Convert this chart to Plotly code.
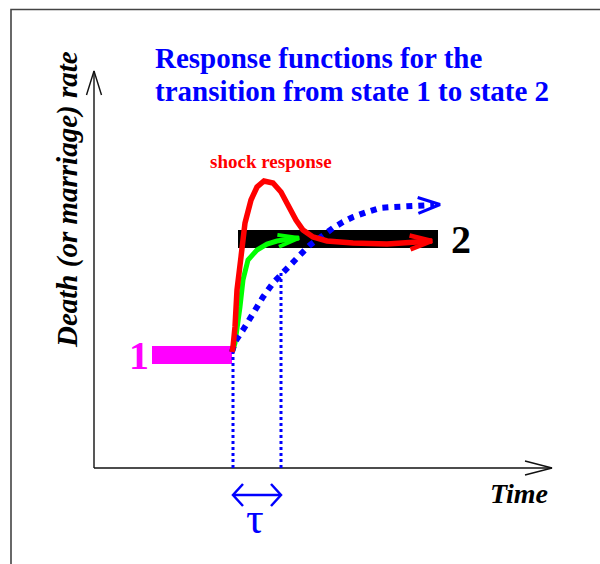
import plotly.graph_objects as go

# ---------------- data (time units on x, rate units on y; origin = axes corner) ----
T_MAX = 458          # length of time axis
R_MAX = 397          # length of rate axis

state1_t = [58, 138]   # extent of state-1 level
state1_r = 113
state2_t = [144, 344]  # extent of state-2 level
state2_r = 229
bar_thick = 18

t_switch = 139
tau = 48
tau_top = 195        # where the tau guide meets the slow response

state_labels = ["1", "2"]

red_t = [138, 139, 141, 143, 147, 151, 157, 163, 170, 179, 187, 194, 202, 209, 219, 233, 259, 293, 319, 338]
red_r = [116, 121, 141, 178, 211, 245, 268, 281, 287, 285, 276, 263, 248, 238, 231, 227, 225, 224, 225, 227]

green_t = [139, 141, 146, 149, 154, 163, 173, 183, 196, 205]
green_r = [118, 125, 161, 188, 208, 218, 224, 227, 229, 230]

blue_t = [138, 141, 149, 159, 169, 179, 189, 196, 206, 216, 226, 239, 249, 259, 273, 286, 299, 313, 323, 340]
blue_r = [116, 126, 138, 155, 171, 185, 196, 203, 213, 223, 231, 240, 246, 251, 256, 260, 261, 262, 262, 263]

title_lines = ["Response functions for the", "transition from state 1 to state 2"]
shock_text = "shock response"
x_title = "Time"
y_title = "Death (or marriage) rate"
tau_text = "τ"

SERIF = "Liberation Serif, Times New Roman, serif"
BLUE = "#0000ff"

fig = go.Figure()


def chevron(x0, y0, x1, y1, L, W):
    dx, dy = x1 - x0, y1 - y0
    n = (dx * dx + dy * dy) ** 0.5
    ux, uy = dx / n, dy / n
    px, py = -uy, ux
    bx, by = x1 - L * ux, y1 - L * uy
    return ([bx + W * px, x1, bx - W * px], [by + W * py, y1, by - W * py])


def line(x, y, color, width, dash="solid"):
    fig.add_trace(go.Scatter(x=x, y=y, mode="lines", hoverinfo="skip",
                             line=dict(color=color, width=width, dash=dash)))


# frame
fig.add_trace(go.Scatter(x=[-83, -83, 520], y=[-100, 458.5, 458.5], mode="lines",
                         hoverinfo="skip", line=dict(color="#444444", width=1.6)))

# axes with open arrowheads
line([0, 0], [0, R_MAX], "#111111", 1.4)
ax, ay = chevron(0, 0, 0, R_MAX, 24, 7.5)
line(ax, ay, "#111111", 1.4)
line([0, T_MAX], [0, 0], "#111111", 1.4)
ax, ay = chevron(0, 0, T_MAX, 0, 27, 7)
line(ax, ay, "#111111", 1.4)

# state levels
fig.add_trace(go.Bar(orientation="h", y=[state2_r], x=[state2_t[1] - state2_t[0]],
                     base=[state2_t[0]], width=[bar_thick], marker=dict(color="black", line=dict(width=0)),
                     hoverinfo="skip"))
fig.add_trace(go.Bar(orientation="h", y=[state1_r], x=[state1_t[1] - state1_t[0]],
                     base=[state1_t[0]], width=[bar_thick], marker=dict(color="#ff00ff", line=dict(width=0)),
                     hoverinfo="skip"))

# tau guide lines
line([t_switch, t_switch], [0, state1_r + 3], BLUE, 3, "dot")
line([t_switch + tau, t_switch + tau], [0, tau_top], BLUE, 3, "dot")

# green response
line(green_t, green_r, "#00ff00", 5)
gx, gy = chevron(green_t[-3], green_r[-3], green_t[-1], green_r[-1], 21, 6)
line(gx, gy, "#00ff00", 4)

# blue slow response
line(blue_t, blue_r, BLUE, 6, "dot")
bx, by = chevron(blue_t[-3], blue_r[-3], blue_t[-1] + 6, blue_r[-1] + 0.5, 22, 8)
line(bx, by, BLUE, 3)

# red shock response
line(red_t, red_r, "#ff0000", 5.5)
rx, ry = chevron(red_t[-3], red_r[-3], red_t[-1], red_r[-1], 22, 7)
line(rx, ry, "#ff0000", 4.5)

# tau double arrow
tau_r = -27
line([t_switch, t_switch + tau], [tau_r, tau_r], BLUE, 2.5)
lx, ly = chevron(t_switch + tau, tau_r, t_switch, tau_r, 10, 11)
line(lx, ly, BLUE, 2.5)
rx2, ry2 = chevron(t_switch, tau_r, t_switch + tau, tau_r, 10, 11)
line(rx2, ry2, BLUE, 2.5)

# texts
for txt, yy in zip(title_lines, [410, 377]):
    fig.add_annotation(x=59, y=yy, text=f"<b>{txt}</b>", showarrow=False, xanchor="left",
                       yanchor="middle", align="left", font=dict(family=SERIF, size=29, color=BLUE))
fig.add_annotation(x=177, y=307, text=f"<b>{shock_text}</b>", showarrow=False,
                   font=dict(family=SERIF, size=19, color="#ff0000"))
fig.add_annotation(x=45, y=state1_r, text=f"<b>{state_labels[0]}</b>", showarrow=False,
                   font=dict(family=SERIF, size=40, color="#ff00ff"))
fig.add_annotation(x=367, y=state2_r, text=f"<b>{state_labels[1]}</b>", showarrow=False,
                   font=dict(family=SERIF, size=40, color="black"))
fig.add_annotation(x=t_switch + tau / 2 - 2, y=-50, text=tau_text, showarrow=False,
                   font=dict(family=SERIF, size=44, color=BLUE))
fig.add_annotation(x=425, y=-25, text=f"<b><i>{x_title}</i></b>", showarrow=False,
                   font=dict(family=SERIF, size=28, color="black"))
fig.add_annotation(x=-27, y=268, text=f"<b><i>{y_title}</i></b>", showarrow=False, textangle=-90,
                   font=dict(family=SERIF, size=29, color="black"))

fig.update_layout(width=600, height=564, margin=dict(l=0, r=0, t=0, b=0),
                  paper_bgcolor="white", plot_bgcolor="white", showlegend=False,
                  xaxis=dict(range=[-94, 506], visible=False, fixedrange=True),
                  yaxis=dict(range=[-96, 468], visible=False, fixedrange=True))

fig.write_html("out.html", config={"displayModeBar": False},
               post_script="document.body.style.margin='0';document.body.style.overflow='hidden';")
